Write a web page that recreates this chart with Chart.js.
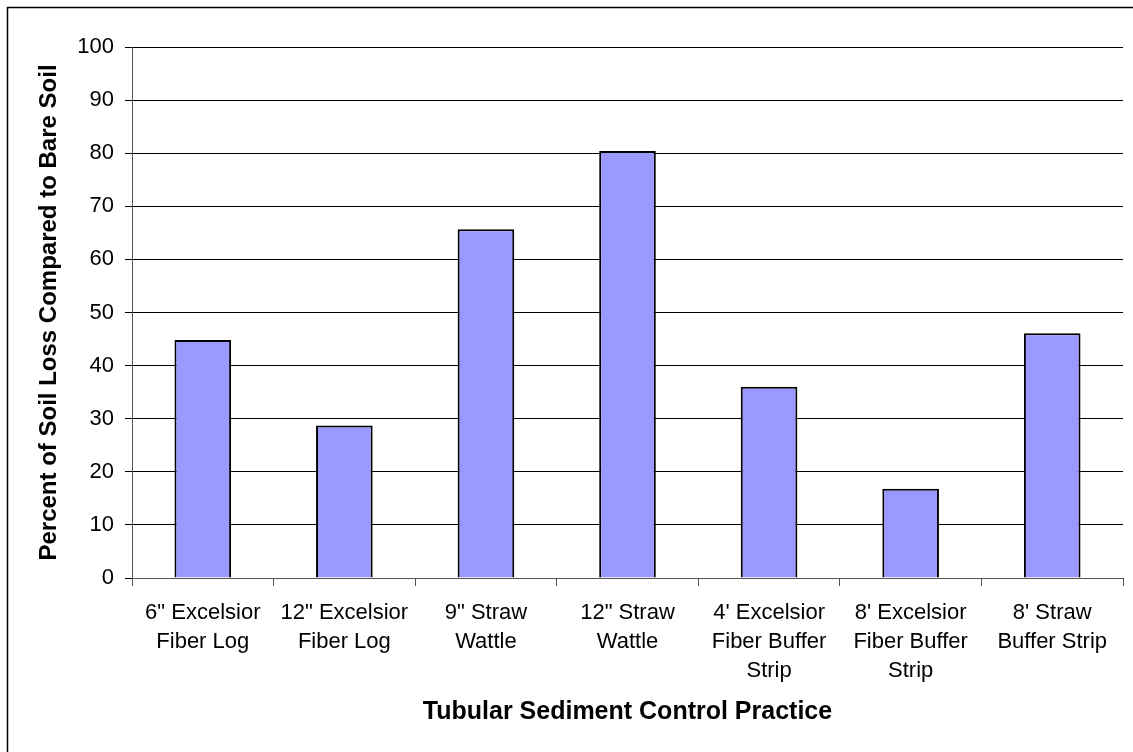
<!DOCTYPE html>
<html>
<head>
<meta charset="utf-8">
<script src="https://cdn.jsdelivr.net/npm/chart.js@4/dist/chart.umd.min.js"></script>
<style>
  html, body { margin: 0; padding: 0; background: #fff; }
  canvas { display: block; }
</style>
</head>
<body>
<canvas id="c" width="1133" height="752"></canvas>
<script>
const categories = [
  ['6" Excelsior', 'Fiber Log'],
  ['12" Excelsior', 'Fiber Log'],
  ['9" Straw', 'Wattle'],
  ['12" Straw', 'Wattle'],
  ["4' Excelsior", 'Fiber Buffer', 'Strip'],
  ["8' Excelsior", 'Fiber Buffer', 'Strip'],
  ["8' Straw", 'Buffer Strip']
];
const soilLossPercent = [44.8, 28.7, 65.7, 80.4, 36.0, 16.8, 46.1];
const yTicks = [0, 10, 20, 30, 40, 50, 60, 70, 80, 90, 100];
const yTitle = 'Percent of Soil Loss Compared to Bare Soil';
const xTitle = 'Tubular Sediment Control Practice';

const FONT = "'Liberation Sans', Arial, sans-serif";

const frameBorder = {
  id: 'frameBorder',
  afterDraw(chart) {
    const ctx = chart.ctx;
    ctx.save();
    ctx.strokeStyle = '#000';
    ctx.lineWidth = 1.5;
    ctx.beginPath();
    ctx.moveTo(7.5, chart.height);
    ctx.lineTo(7.5, 7.5);
    ctx.lineTo(chart.width, 7.5);
    ctx.stroke();
    ctx.restore();
  }
};

new Chart(document.getElementById('c'), {
  type: 'bar',
  data: {
    labels: categories,
    datasets: [{
      data: soilLossPercent,
      backgroundColor: '#9999FF',
      borderColor: '#000',
      borderWidth: 2,
      barPercentage: 0.4,
      categoryPercentage: 1.0
    }]
  },
  options: {
    responsive: false,
    animation: false,
    devicePixelRatio: 1,
    layout: { padding: { left: 0, right: 10, top: 47, bottom: 0 } },
    plugins: { legend: { display: false }, tooltip: { enabled: false } },
    scales: {
      x: {
        offset: true,
        grid: {
          offset: true,
          drawOnChartArea: false,
          drawTicks: true,
          tickLength: 8,
          color: '#555'
        },
        border: { display: true, color: '#555', width: 1 },
        ticks: {
          autoSkip: false,
          maxRotation: 0,
          minRotation: 0,
          padding: 12,
          color: '#000',
          font: { family: FONT, size: 22, lineHeight: 29 / 22 }
        },
        title: {
          display: true,
          text: xTitle,
          color: '#000',
          font: { family: FONT, size: 25, weight: 'bold', lineHeight: 1.2 },
          padding: { top: 0, bottom: 25 }
        },
        afterFit(scale) { scale.height = 174; }
      },
      y: {
        min: 0,
        max: 100,
        afterBuildTicks(scale) { scale.ticks = yTicks.map(v => ({ value: v })); },
        grid: {
          color: '#000',
          lineWidth: 1,
          drawTicks: true,
          tickLength: 7
        },
        border: { display: true, color: '#555', width: 1 },
        ticks: {
          padding: 11,
          color: '#000',
          font: { family: FONT, size: 22 }
        },
        title: {
          display: true,
          text: yTitle,
          color: '#000',
          font: { family: FONT, size: 24, weight: 'bold', lineHeight: 1.2 },
          padding: { top: 35, bottom: 0 }
        },
        afterFit(scale) { scale.width = 132; }
      }
    }
  },
  plugins: [frameBorder]
});
</script>
</body>
</html>
